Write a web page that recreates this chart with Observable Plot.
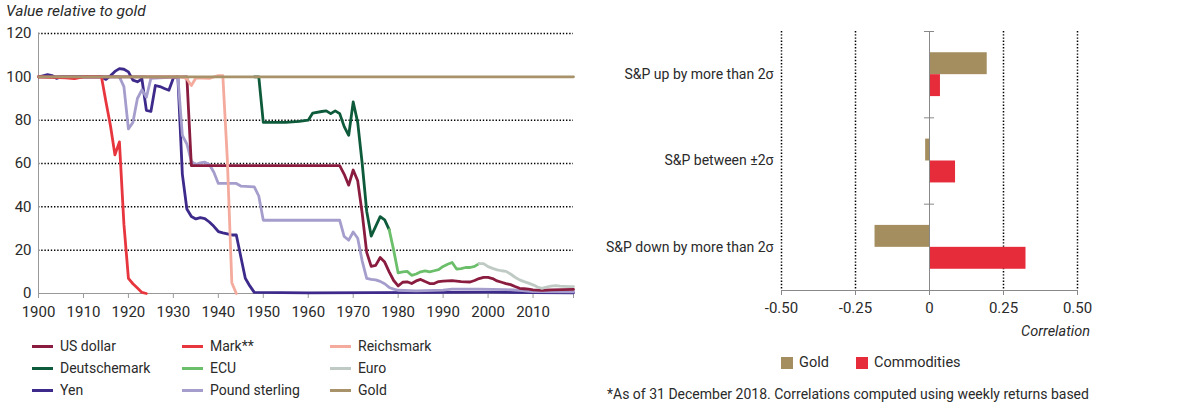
<!DOCTYPE html>
<html><head><meta charset="utf-8">
<script src="https://cdn.jsdelivr.net/npm/d3@7"></script>
<script src="https://cdn.jsdelivr.net/npm/@observablehq/plot@0.6"></script>
<style>
body{margin:0;background:#fff;font-family:Roboto,"Liberation Sans",sans-serif;font-weight:400;color:#2a2a2a;}
#wrap{position:relative;width:1200px;height:404px;overflow:hidden;background:#fff;}
.abs{position:absolute;white-space:nowrap;}
.t{font-size:14px;line-height:16px;}
</style></head><body><div id="wrap"></div>
<script>
// ---------- Left chart data: value relative to gold ([year, value]) ----------
const usDollar = [[1900,100],[1933,100],[1934,59],[1967,59],[1968,55],[1969,50],[1970,57],[1971,52],[1972,37],[1973,19],[1974,12.5],[1975,13],[1976,16.6],[1977,14.5],[1978,10],[1979,6],[1980,3.5],[1981,5.2],[1982,5.4],[1983,4.6],[1984,5.8],[1985,6.5],[1986,5.5],[1987,4.6],[1988,4.6],[1989,5.5],[1990,5.7],[1992,5.9],[1994,5.5],[1996,5.3],[1997,6],[1998,6.9],[1999,7.4],[2000,7.4],[2001,6.9],[2002,5.8],[2003,5.2],[2004,4.6],[2005,4.1],[2006,3.2],[2007,2.4],[2008,2.2],[2009,2],[2010,1.7],[2011,1.6],[2012,1.5],[2014,1.7],[2019,1.9]];
const mark = [[1900,100],[1906,99.5],[1908,99.2],[1910,100],[1914,100],[1915,88.5],[1916,77.5],[1917,64],[1918,70],[1919,32],[1920,7],[1921,4.5],[1922,2.5],[1923,0.5],[1924,0]];
const reichsmark = [[1924,100],[1932,100],[1933,99],[1934,96],[1935,99.5],[1938,99.3],[1940,100.6],[1941,100.5],[1942,62],[1943,5],[1944,0]];
const deutschemark = [[1948,100],[1949,100],[1950,79],[1955,79],[1958,79.4],[1960,80],[1961,83.3],[1963,84],[1964,84.3],[1965,83],[1966,84.3],[1967,83],[1968,77],[1969,73],[1970,88.4],[1971,79],[1972,60],[1973,38],[1974,26.5],[1975,31],[1976,35.5],[1977,34],[1978,29.5]];
const ecu = [[1978,29.5],[1979,20],[1980,9.5],[1981,10],[1982,10.2],[1983,8.4],[1984,9],[1985,10],[1986,10.4],[1987,10],[1988,10.5],[1989,11],[1990,12.5],[1991,13.5],[1992,14.3],[1993,11.3],[1994,11.5],[1995,12],[1996,12],[1997,12.5],[1998,13.8]];
const euro = [[1998,13.8],[1999,13.8],[2000,12.4],[2001,11.6],[2002,10.9],[2003,10.5],[2004,10.2],[2005,9],[2006,7.5],[2007,6.3],[2008,5.5],[2009,4.8],[2010,4],[2011,3],[2012,2.4],[2013,3],[2014,3.4],[2015,3.6],[2016,3.4],[2017,3.3],[2018,3.2],[2019,3.2]];
const yen = [[1900,100],[1901,100.5],[1902,101],[1903,100.6],[1904,99.3],[1905,100],[1914,100],[1915,98.8],[1916,100.5],[1917,102.5],[1918,103.8],[1919,103.5],[1920,102.3],[1921,98.5],[1922,97.7],[1923,99],[1924,84.5],[1925,84],[1926,96],[1927,95.5],[1928,94.6],[1929,93.8],[1930,99.5],[1931,100],[1932,55],[1933,39],[1934,35.5],[1935,34.4],[1936,35],[1937,34.6],[1938,33],[1939,31],[1940,28.6],[1941,28],[1942,27.5],[1943,27],[1944,27],[1945,17],[1946,7],[1947,3.5],[1948,0.5],[1960,0.3],[1975,0.4],[1990,0.5],[2000,0.6],[2010,0.4],[2019,0.3]];
const poundSterling = [[1900,100],[1918,100],[1919,95.5],[1920,76],[1921,79],[1922,90],[1923,94],[1924,90.6],[1925,99.3],[1931,100],[1932,73],[1933,69],[1934,61],[1935,59.5],[1936,60.3],[1937,60.6],[1938,59.5],[1939,56],[1940,50.8],[1944,50.8],[1945,49.6],[1948,49.2],[1949,45],[1950,33.8],[1967,33.8],[1968,26.3],[1969,24.6],[1970,28.4],[1971,25.5],[1972,15],[1973,7],[1974,6.5],[1975,6.3],[1976,5.6],[1977,4.5],[1978,2.8],[1979,2],[1980,1.5],[1984,1.2],[1990,1.6],[1992,2],[1998,2],[2004,1.8],[2007,1.5],[2010,0.9],[2019,0.8]];
const gold = [[1900,100],[2019,100]];

const seriesNames  = ["US dollar","Mark**","Reichsmark","Deutschemark","ECU","Euro","Yen","Pound sterling","Gold"];
const seriesColors = ["#8a1c40","#e8363f","#f4aa9c","#0e5b3b","#6cbf6a","#c0cac4","#3d2a8a","#a59ecd","#a8926a"];
const seriesPoints = [usDollar, mark, reichsmark, deutschemark, ecu, euro, yen, poundSterling, gold];
const drawOrder = ["Yen","Pound sterling","US dollar","Mark**","Reichsmark","Deutschemark","ECU","Euro","Gold"];
const xTicks = [1900,1910,1920,1930,1940,1950,1960,1970,1980,1990,2000,2010];
const yTicks = [0,20,40,60,80,100,120];

// ---------- Right chart data: correlation with S&P ----------
const categories = ["S&P up by more than 2\u03c3","S&P between \u00b12\u03c3","S&P down by more than 2\u03c3"];
const goldCorr = [0.195, -0.013, -0.184];
const commoditiesCorr = [0.037, 0.088, 0.326];
const corrTicks = [-0.5,-0.25,0,0.25,0.5];
const barSeries = ["Gold","Commodities"];
const barColors = ["#a48e5f","#e62b3a"];

const FONT = "Roboto, 'Liberation Sans', sans-serif";
const wrap = document.getElementById("wrap");

// ---- left line chart ----
const lineRows = drawOrder.flatMap(name => {
  const pts = seriesPoints[seriesNames.indexOf(name)];
  return pts.map(([year, value]) => ({name, year, value}));
});

const left = Plot.plot({
  width: 590, height: 323,
  marginTop: 33, marginBottom: 30, marginLeft: 38, marginRight: 17,
  style: {fontFamily: FONT, fontSize: "15px", fontWeight: 400, color: "#2a2a2a", background: "transparent"},
  x: {domain: [1900, 2019], label: null},
  y: {domain: [0, 120], label: null},
  color: {domain: seriesNames, range: seriesColors},
  marks: [
    Plot.gridY({ticks: yTicks.filter(d => d > 0), stroke: "#000", strokeOpacity: 1, strokeWidth: 1.5, strokeDasharray: "1.4,1.8"}),
    Plot.ruleX([1900], {stroke: "#999", strokeWidth: 1}),
    Plot.ruleY([0], {stroke: "#999", strokeWidth: 1}),
    Plot.axisX({ticks: xTicks, tickSize: 5, tickPadding: 8, tickFormat: d => String(d), stroke: "#999", label: null}),
    Plot.axisX({ticks: [2019], tickSize: 5, tickFormat: () => "", stroke: "#999", label: null}),
    Plot.axisY({ticks: yTicks, tickSize: 0, tickPadding: 7, label: null}),
    Plot.line(lineRows, {x: "year", y: "value", z: "name", stroke: "name", strokeWidth: 2.8, strokeLinejoin: "round"})
  ]
});
left.style.position = "absolute"; left.style.left = "0px"; left.style.top = "0px";
wrap.appendChild(left);

function addText(txt, x, y, opts = {}) {
  const d = document.createElement("div");
  d.className = "abs t";
  d.textContent = txt;
  d.style.left = x + "px"; d.style.top = y + "px";
  if (opts.size) { d.style.fontSize = opts.size + "px"; d.style.lineHeight = (opts.size + 2) + "px"; }
  if (opts.italic) d.style.fontStyle = "italic";
  if (opts.right) { d.style.left = "auto"; d.style.right = (1200 - x) + "px"; d.style.textAlign = "right"; }
  wrap.appendChild(d);
  return d;
}
function addSwatch(x, y, w, h, color) {
  const s = document.createElement("div");
  s.className = "abs";
  s.style.left = x + "px"; s.style.top = y + "px";
  s.style.width = w + "px"; s.style.height = h + "px";
  s.style.background = color;
  wrap.appendChild(s);
}

addText("Value relative to gold", 6, 3, {size: 15.5, italic: true});

// left legend (row-major, 3 columns)
const legColX = [32, 182, 330];
const legRowY = [346, 368, 390];
seriesNames.forEach((name, i) => {
  const c = i % 3, r = Math.floor(i / 3);
  addSwatch(legColX[c], legRowY[r] - 1.5, 21, 3, seriesColors[i]);
  addText(name, legColX[c] + 28, legRowY[r] - 8, {size: 14});
});

// ---- right bar chart ----
const barRows = categories.flatMap((cat, i) => [
  {cat, idx: i, series: "Gold", value: goldCorr[i]},
  {cat, idx: i, series: "Commodities", value: commoditiesCorr[i]}
]);
const half = 0.254;
const fmt = d => d === 0 ? "0" : d.toFixed(2);

const right = Plot.plot({
  width: 610, height: 320,
  marginTop: 31, marginBottom: 30, marginLeft: 191, marginRight: 123,
  style: {fontFamily: FONT, fontSize: "14px", fontWeight: 400, color: "#2a2a2a", background: "transparent"},
  x: {domain: [-0.5, 0.5], label: null},
  y: {domain: [0, 3], reverse: true, label: null},
  color: {domain: barSeries, range: barColors},
  marks: [
    Plot.ruleX(corrTicks.filter(d => d !== 0), {stroke: "#000", strokeWidth: 1.5, strokeDasharray: "1.4,1.8"}),
    Plot.rect(barRows, {
      x1: 0, x2: "value",
      y1: d => d.series === "Gold" ? d.idx + 0.5 - half : d.idx + 0.5,
      y2: d => d.series === "Gold" ? d.idx + 0.5 : d.idx + 0.5 + half,
      fill: "series"
    }),
    Plot.ruleX([0], {stroke: "#888", strokeWidth: 1}),
    Plot.ruleY([0, 1, 2], {x1: -0.017, x2: 0.017, stroke: "#888", strokeWidth: 1}),
    Plot.ruleY([3], {stroke: "#888", strokeWidth: 1}),
    Plot.axisX({ticks: corrTicks, tickSize: 5, tickPadding: 7, tickFormat: fmt, stroke: "#888", label: null, fontSize: 15}),
    Plot.axisY({ticks: [0.5, 1.5, 2.5], tickSize: 0, tickPadding: 8, tickFormat: d => categories[Math.floor(d)], label: null})
  ]
});
right.style.position = "absolute"; right.style.left = "590px"; right.style.top = "0px";
wrap.appendChild(right);

addText("Correlation", 1090, 324, {size: 14.5, italic: true, right: true});

// right legend
addSwatch(781, 357, 12, 12, barColors[0]);
addText(barSeries[0], 799, 355, {size: 14.5});
addSwatch(856, 357, 12, 12, barColors[1]);
addText(barSeries[1], 874, 355, {size: 14.5});

addText("*As of 31 December 2018. Correlations computed using weekly returns based", 607, 386, {size: 14});
</script></body></html>
